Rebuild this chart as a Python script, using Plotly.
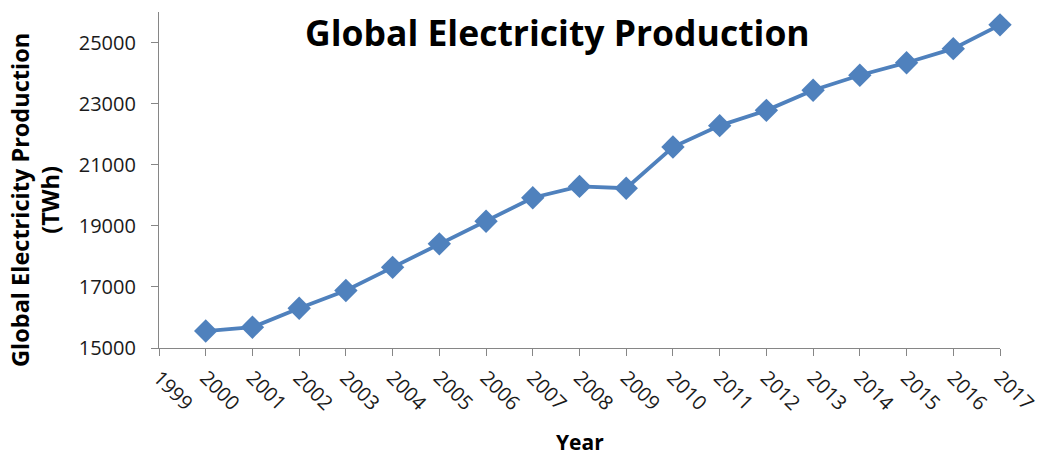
import plotly.graph_objects as go

# Annual global electricity generation, TWh
years = [2000, 2001, 2002, 2003, 2004, 2005, 2006, 2007, 2008,
         2009, 2010, 2011, 2012, 2013, 2014, 2015, 2016, 2017]
production_twh = [15555, 15680, 16300, 16880, 17640, 18410, 19150, 19920, 20290,
                  20230, 21580, 22280, 22780, 23440, 23930, 24340, 24800, 25580]

y_ticks = [15000, 17000, 19000, 21000, 23000, 25000]
x_ticks = list(range(1999, 2018))

LINE_BLUE = "#4F81BD"
AXIS_GREY = "#868686"
FONT = "Open Sans"

fig = go.Figure()
fig.add_trace(go.Scatter(
    x=years,
    y=production_twh,
    mode="lines+markers",
    line=dict(color=LINE_BLUE, width=3.8),
    marker=dict(symbol="diamond", size=18, color=LINE_BLUE),
    cliponaxis=False,
    showlegend=False,
    hoverinfo="x+y",
))

fig.update_layout(
    width=1039,
    height=457,
    margin=dict(l=159, r=39, t=12, b=109),
    paper_bgcolor="white",
    plot_bgcolor="white",
    font=dict(family=FONT, color="#000000"),
)

fig.update_xaxes(
    range=[1999, 2017],
    tickvals=x_ticks,
    ticktext=[str(y) for y in x_ticks],
    tickangle=45,
    automargin=False,
    ticklabeloverflow="allow",
    showgrid=False,
    zeroline=False,
    showline=True,
    linecolor=AXIS_GREY,
    linewidth=1.2,
    ticks="outside",
    ticklen=7,
    tickcolor=AXIS_GREY,
    ticklabelstandoff=2,
    tickfont=dict(family=FONT, size=20, color="#1a1a1a"),
)

fig.update_yaxes(
    range=[15000, 26000],
    tickvals=y_ticks,
    ticktext=[str(v) for v in y_ticks],
    automargin=False,
    ticklabeloverflow="allow",
    showgrid=False,
    zeroline=False,
    showline=True,
    linecolor=AXIS_GREY,
    linewidth=1.2,
    ticks="outside",
    ticklen=7,
    tickcolor=AXIS_GREY,
    ticklabelstandoff=11,
    tickfont=dict(family=FONT, size=20, color="#1a1a1a"),
)

# Chart title, set inside the plot area
fig.add_annotation(
    text="<b>Global Electricity Production</b>",
    xref="paper", yref="paper",
    x=0.474, y=0.94,
    xanchor="center", yanchor="middle",
    showarrow=False,
    font=dict(family=FONT, size=35.5, color="#000000"),
)

# Y-axis title (two lines, rotated)
fig.add_annotation(
    text="<b>Global Electricity Production<br>(TWh)</b>",
    xref="paper", yref="paper",
    x=-0.1875, y=0.44,
    xanchor="left", yanchor="middle",
    textangle=-90,
    showarrow=False,
    font=dict(family=FONT, size=23.5, color="#000000"),
)

# X-axis title
fig.add_annotation(
    text="<b>Year</b>",
    xref="paper", yref="paper",
    x=0.5, y=-0.28,
    xanchor="center", yanchor="middle",
    showarrow=False,
    font=dict(family=FONT, size=21, color="#000000"),
)

fig.write_html("out.html")
